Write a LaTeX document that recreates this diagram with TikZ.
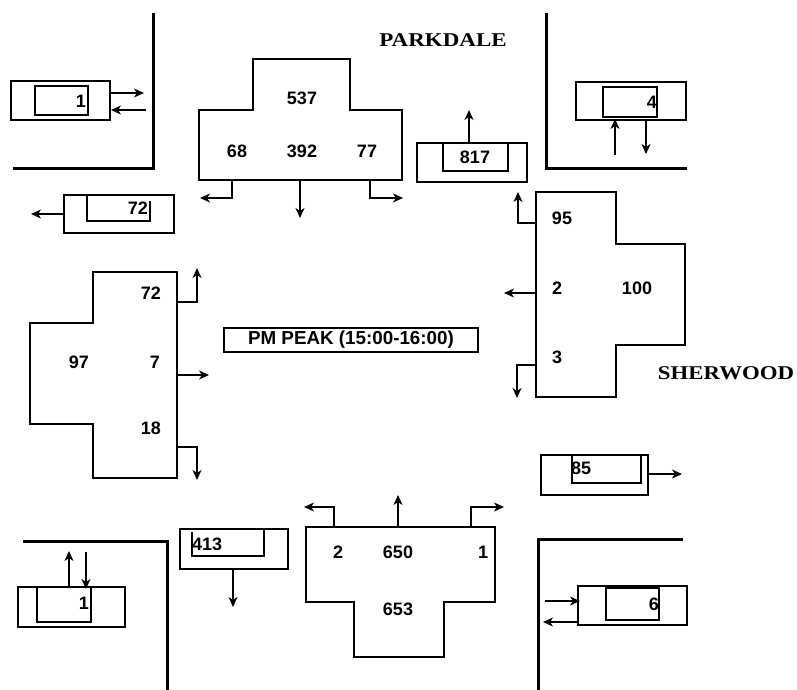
\documentclass[tikz,border=0pt]{standalone}
\usepackage{fontspec}
\setmainfont{Liberation Serif}
\setsansfont{Liberation Sans}
\usetikzlibrary{arrows.meta}
\tikzset{
  thin line/.style={line width=1.3pt, draw=black},
  curb/.style={line width=3pt, draw=black},
  arr/.style={line width=1.3pt, -{Stealth[length=10pt,width=9pt,inset=3pt]}},
  num/.style={font=\sffamily\bfseries\fontsize{18}{18}\selectfont, inner sep=0pt},
  road/.style={font=\rmfamily\bfseries\fontsize{19.5}{19.5}\selectfont, inner sep=0pt},
}
\begin{document}
\begin{tikzpicture}[x=1pt,y=-1pt]
\useasboundingbox (0,0) rectangle (797,690);

% curbs
\draw[curb] (153,13) -- (153,168) -- (13,168);
\draw[curb] (546,13) -- (546,168) -- (687,168);
\draw[curb] (23,541) -- (167,541) -- (167,690);
\draw[curb] (683,539) -- (538,539) -- (538,690);

% street names
\node[road] (park) at (443,40) {\scalebox{1.18}[1]{PARKDALE}};
\node[road] (sher) at (726,373) {\scalebox{1.17}[1]{SHERWOOD}};

% title
\node[draw, line width=1.3pt, minimum width=254pt, minimum height=24pt, inner sep=0pt,
      font=\sffamily\bfseries\fontsize{18.8}{18.8}\selectfont] (title) at (351,340) {PM PEAK (15:00-16:00)};

% north approach (Parkdale southbound)
\draw[thin line] (199,110) -- (253,110) -- (253,59) -- (350,59) -- (350,110) -- (402,110) -- (402,180) -- (199,180) -- cycle;
\node[num] (n537) at (302,98) {537};
\node[num] (n68) at (237,151) {68};
\node[num] (n392) at (302,151) {392};
\node[num] (n77) at (367,151) {77};
\draw[arr] (232,180) |- (200,198);
\draw[arr] (300,180) -- (300,218);
\draw[arr] (370,180) |- (403,198);

% east approach (Sherwood westbound)
\draw[thin line] (536,192) -- (616,192) -- (616,244) -- (685,244) -- (685,345) -- (616,345) -- (616,397) -- (536,397) -- cycle;
\node[num] (n95) at (562,218) {95};
\node[num] (n2e) at (557,288) {2};
\node[num] (n100) at (637,288) {100};
\node[num] (n3) at (557,357) {3};
\draw[arr] (536,223) -| (518,192);
\draw[arr] (536,293) -- (504,293);
\draw[arr] (536,365) -| (517,398);

% west approach (Sherwood eastbound)
\draw[thin line] (93,272) -- (177,272) -- (177,478) -- (93,478) -- (93,424) -- (30,424) -- (30,323) -- (93,323) -- cycle;
\node[num] (n72w) at (151,293) {72};
\node[num] (n97) at (79,362) {97};
\node[num] (n7) at (155,362) {7};
\node[num] (n18) at (151,428) {18};
\draw[arr] (177,302) -| (197,268);
\draw[arr] (177,375) -- (209,375);
\draw[arr] (177,447) -| (197,480);

% south approach (Parkdale northbound)
\draw[thin line] (306,527) -- (495,527) -- (495,602) -- (444,602) -- (444,657) -- (354,657) -- (354,602) -- (306,602) -- cycle;
\node[num] (n2s) at (338,552) {2};
\node[num] (n650) at (398,552) {650};
\node[num] (n1s) at (483,552) {1};
\node[num] (n653) at (398,609) {653};
\draw[arr] (334,527) |- (304,507);
\draw[arr] (398,527) -- (398,495);
\draw[arr] (471,527) |- (504,507);

% exit / pedestrian boxes
% top-left 1
\draw[thin line] (11,81) rectangle (110,120);
\draw[thin line] (35,86) rectangle (88,115);
\node[num, anchor=east] (tl1) at (86,101) {1};
\draw[arr] (110,93) -- (144,93);
\draw[arr] (146,110) -- (111,110);

% 72 west exit
\draw[thin line] (64,195) rectangle (174,233);
\draw[thin line] (87,195) -- (87,221) -- (150,221) -- (150,201);
\node[num] (b72) at (138,208) {72};
\draw[arr] (64,214) -- (31,214);

% 817 north exit
\draw[thin line] (417,143) rectangle (527,182);
\draw[thin line] (443,143) rectangle (508,171);
\node[num] (b817) at (475,157) {817};
\draw[arr] (469,143) -- (469,110);

% top-right 4
\draw[thin line] (576,82) rectangle (686,120);
\draw[thin line] (603,87) rectangle (657,117);
\node[num, anchor=east] (tr4) at (657,102) {4};
\draw[arr] (615,155) -- (615,119);
\draw[arr] (646,120) -- (646,154);

% bottom-left 1
\draw[thin line] (18,587) rectangle (125,627);
\draw[thin line] (37,587) rectangle (91,622);
\node[num, anchor=east] (bl1) at (89,603) {1};
\draw[arr] (69,587) -- (69,551);
\draw[arr] (86,552) -- (86,589);

% 413 south exit
\draw[thin line] (180,529) rectangle (288,569);
\draw[thin line] (192,532) -- (192,556) -- (264,556) -- (264,529);
\node[num, anchor=west] (b413) at (192,544) {413};
\draw[arr] (233,569) -- (233,607);

% 85 east exit
\draw[thin line] (541,455) rectangle (648,495);
\draw[thin line] (572,455) -- (572,483) -- (641,483) -- (641,455);
\node[num, anchor=west] (b85) at (571,468) {85};
\draw[arr] (648,474) -- (682,474);

% bottom-right 6
\draw[thin line] (578,586) rectangle (687,625);
\draw[thin line] (606,588) rectangle (659,620);
\node[num, anchor=east] (br6) at (659,604) {6};
\draw[arr] (545,601) -- (580,601);
\draw[arr] (578,622) -- (543,622);
\end{tikzpicture}
\end{document}
